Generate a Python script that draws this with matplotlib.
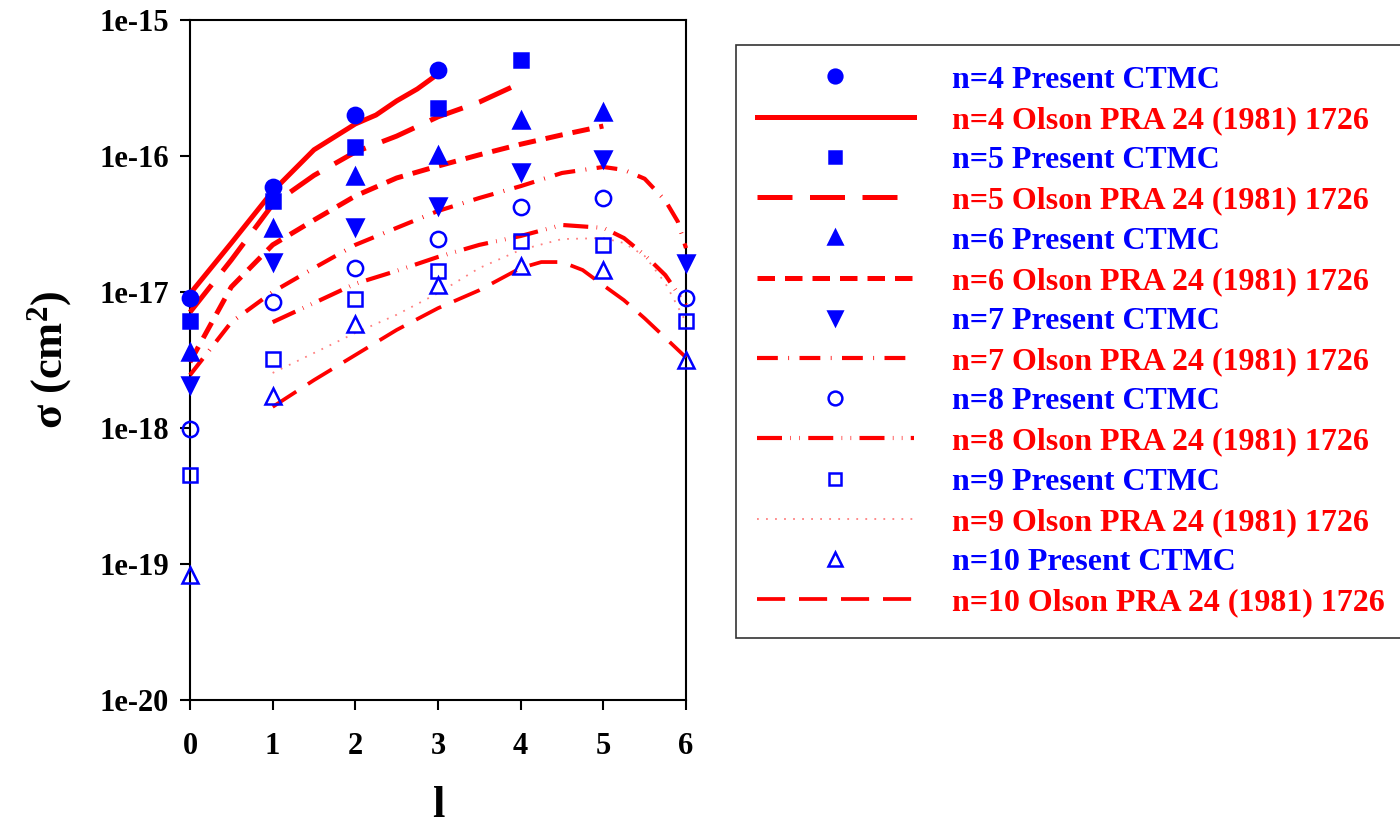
import matplotlib.pyplot as plt
from matplotlib.ticker import FixedLocator, NullLocator

plt.rcParams['font.family'] = ['Liberation Serif', 'DejaVu Serif']
plt.rcParams['font.weight'] = 'bold'
plt.rcParams['mathtext.fontset'] = 'custom'
plt.rcParams['mathtext.rm'] = 'Liberation Serif:bold'
plt.rcParams['mathtext.it'] = 'Liberation Serif:bold'
plt.rcParams['mathtext.bf'] = 'Liberation Serif:bold'

# Present CTMC cross sections (cm^2) vs l
l_ctmc = [0, 1, 2, 3, 4, 5, 6]
ctmc_n4 = [9.0e-18, 5.9e-17, 2.0e-16, 4.3e-16]
ctmc_n5 = [6.1e-18, 4.7e-17, 1.16e-16, 2.25e-16, 5.1e-16]
ctmc_n6 = [3.6e-18, 2.96e-17, 7.1e-17, 1.02e-16, 1.84e-16, 2.1e-16]
ctmc_n7 = [2.07e-18, 1.66e-17, 3.0e-17, 4.3e-17, 7.6e-17, 9.5e-17, 1.63e-17]
ctmc_n8 = [9.9e-19, 8.4e-18, 1.5e-17, 2.46e-17, 4.2e-17, 4.9e-17, 9.0e-18]
ctmc_n9 = [4.5e-19, 3.2e-18, 8.9e-18, 1.43e-17, 2.37e-17, 2.22e-17, 6.1e-18]
ctmc_n10 = [8.3e-20, 1.72e-18, 5.8e-18, 1.12e-17, 1.55e-17, 1.45e-17, 3.16e-18]

# Olson PRA 24 (1981) 1726
olson_l_n4 = [0, 0.5, 1, 1.5, 2, 2.25, 2.5, 2.75, 2.95]
olson_n4 = [9.7e-18, 2.29e-17, 5.5e-17, 1.11e-16, 1.72e-16, 2.0e-16, 2.54e-16, 3.11e-16, 3.81e-16]
olson_l_n5 = [0, 0.5, 1, 1.5, 2, 2.5, 3, 3.5, 4]
olson_n5 = [7.1e-18, 1.72e-17, 4.4e-17, 7.2e-17, 1.07e-16, 1.40e-16, 1.94e-16, 2.49e-16, 3.44e-16]
olson_l_n6 = [0, 0.5, 1, 1.5, 2, 2.5, 3, 3.5, 4, 4.5, 5]
olson_n6 = [3.05e-18, 1.09e-17, 2.22e-17, 3.38e-17, 5.08e-17, 6.89e-17, 8.43e-17, 1.02e-16, 1.22e-16, 1.43e-16, 1.66e-16]
olson_l_n7 = [0, 0.5, 1, 1.5, 2, 2.5, 3, 3.5, 4, 4.5, 5, 5.25, 5.5, 5.75, 5.9, 6]
olson_n7 = [2.45e-18, 6.0e-18, 1.0e-17, 1.5e-17, 2.22e-17, 2.96e-17, 3.94e-17, 4.91e-17, 6.0e-17, 7.5e-17, 8.3e-17, 7.9e-17, 6.8e-17, 4.7e-17, 3.3e-17, 2.1e-17]
olson_l_n8 = [1, 1.5, 2, 2.5, 3, 3.5, 4, 4.5, 5, 5.25, 5.5, 5.75, 6]
olson_n8 = [6.0e-18, 8.3e-18, 1.15e-17, 1.43e-17, 1.81e-17, 2.22e-17, 2.58e-17, 3.11e-17, 2.96e-17, 2.49e-17, 1.87e-17, 1.33e-17, 8.0e-18]
olson_l_n9 = [1, 1.5, 2, 2.5, 3, 3.5, 4, 4.5, 5, 5.25, 5.5, 5.75, 6]
olson_n9 = [2.54e-18, 3.56e-18, 5.0e-18, 6.8e-18, 9.8e-18, 1.5e-17, 2.04e-17, 2.45e-17, 2.49e-17, 2.29e-17, 1.84e-17, 1.16e-17, 6.0e-18]
olson_l_n10 = [1, 1.5, 2, 2.5, 3, 3.5, 4, 4.25, 4.5, 4.75, 5, 5.25, 5.5, 5.75, 6]
olson_n10 = [1.43e-18, 2.25e-18, 3.44e-18, 5.26e-18, 7.6e-18, 1.03e-17, 1.5e-17, 1.66e-17, 1.66e-17, 1.45e-17, 1.12e-17, 8.7e-18, 6.4e-18, 4.6e-18, 3.3e-18]

n_levels = [4, 5, 6, 7, 8, 9, 10]
ctmc_sets = [ctmc_n4, ctmc_n5, ctmc_n6, ctmc_n7, ctmc_n8, ctmc_n9, ctmc_n10]
olson_sets = [(olson_l_n4, olson_n4), (olson_l_n5, olson_n5), (olson_l_n6, olson_n6),
              (olson_l_n7, olson_n7), (olson_l_n8, olson_n8), (olson_l_n9, olson_n9),
              (olson_l_n10, olson_n10)]

blue = '#0000ff'
red = '#ff0000'

markers = ['o', 's', '^', 'v', 'o', 's', '^']
filled = [True, True, True, True, False, False, False]
line_styles = [
    ('-', 3.6, red),
    ((0, (7, 3.5)), 3.6, red),
    ((0, (3.5, 2)), 3.6, red),
    ((0, (5, 2.5, 0.2, 2.5)), 3.0, red),
    ((0, (6, 2, 0.15, 2, 0.15, 2)), 3.0, red),
    ((0, (1, 4)), 1.3, '#ff8080'),
    ((0, (7.5, 3.7)), 2.7, red),
]

fig = plt.figure(figsize=(14, 8.25), dpi=100)
ax = fig.add_axes([0.1357, 0.1515, 0.3543, 0.8243])

handles = []
labels = []
for n, yv, (ol, ov), mk, fl, (ls, lw, lc) in zip(n_levels, ctmc_sets, olson_sets,
                                                   markers, filled, line_styles):
    pts, = ax.plot(l_ctmc[:len(yv)], yv, linestyle='none', marker=mk,
                   markersize=11 if mk != 's' else 10,
                   markerfacecolor=blue if fl else 'none',
                   markeredgecolor=blue, markeredgewidth=1.8,
                   clip_on=False, zorder=4)
    ln, = ax.plot(ol, ov, linestyle=ls, linewidth=lw, color=lc,
                  dash_capstyle='butt', clip_on=False, zorder=3)
    handles += [pts, ln]
    labels += [f'n={n} Present CTMC', f'n={n} Olson PRA 24 (1981) 1726']

ax.set_yscale('log')
ax.set_xlim(0, 6)
ax.set_ylim(1e-20, 1e-15)

ax.yaxis.set_major_locator(FixedLocator([1e-20, 1e-19, 1e-18, 1e-17, 1e-16, 1e-15]))
ax.yaxis.set_minor_locator(NullLocator())
ax.set_yticklabels(['1e-20', '1e-19', '1e-18', '1e-17', '1e-16', '1e-15'])
ax.set_xticks([0, 1, 2, 3, 4, 5, 6])
ax.set_xticklabels(['0', '1', '2', '3', '4', '5', '6'])

ax.tick_params(axis='both', direction='out', length=7, width=1.5, labelsize=22)
ax.tick_params(axis='y', pad=8)
ax.tick_params(axis='x', pad=16)
for sp in ax.spines.values():
    sp.set_linewidth(1.5)
    sp.set_color('black')

ax.set_xlabel('l', fontsize=32, fontweight='bold', labelpad=18)
ax.set_ylabel('σ (cm$^{2}$)', fontsize=32, fontweight='bold', labelpad=18)

leg = fig.legend(handles, labels, loc='upper left', bbox_to_anchor=(0.526, 0.946),
                 fontsize=23, frameon=True, fancybox=False, edgecolor='black',
                 handlelength=4.9, handletextpad=1.2, labelspacing=0.34,
                 borderpad=0.65, markerscale=0.9, borderaxespad=0)
leg.get_frame().set_linewidth(1.2)
for i, txt in enumerate(leg.get_texts()):
    txt.set_color(blue if i % 2 == 0 else red)

plt.savefig('out.png', dpi=100)
